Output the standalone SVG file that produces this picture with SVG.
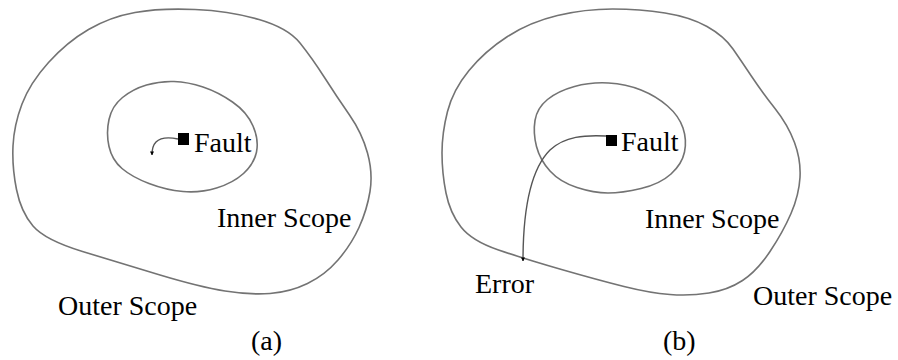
<svg xmlns="http://www.w3.org/2000/svg" width="898" height="360" viewBox="0 0 898 360">
<style>
.scope{fill:none;stroke:#737373;stroke-width:1.6}
.path{fill:none;stroke:#555;stroke-width:1.4}
.fault{fill:#000}
text{font-family:"Liberation Serif","Times New Roman",serif;font-size:28px;fill:#000}
</style>
<defs>
<marker id="tip" viewBox="0 0 10 10" refX="9" refY="5" markerWidth="4" markerHeight="4" orient="auto" markerUnits="userSpaceOnUse">
<path d="M0,0 L10,5 L0,10 Z" fill="#000"/>
</marker>
</defs>
<rect width="898" height="360" fill="#fff"/>
<g id="panel-a">
<g id="a-outer-scope">
<path class="scope" d="M135,12.5 Q160,8 195,9.5 Q230,11 259,19.5 Q288,28 300,43 Q312,58 324.5,77.5 Q337,97 349.5,115 Q362,133 367.5,153 Q373,173 370,191.5 Q367,210 359,227.5 Q351,245 338,260 Q325,275 307.5,283.5 Q290,292 270,293.5 Q250,295 225,291 Q200,287 160,275 Q120,263 82.5,251.5 Q45,240 33,226 Q21,212 16.5,189.5 Q12,167 13,146 Q14,125 22,104 Q30,83 48.5,62.5 Q67,42 88.5,29.5 Q110,17 135,12.5 Z"/>
<text x="58" y="315">Outer Scope</text>
</g>
<g id="a-inner-scope">
<path class="scope" d="M109,119.5 Q112,106 122.5,97.5 Q133,89 146.5,85 Q160,81 174,81.5 Q188,82 203,87 Q218,92 232.5,102 Q247,112 253,126 Q259,140 256.5,152 Q254,164 243.5,173.5 Q233,183 216.5,188 Q200,193 183,191.5 Q166,190 149,183.5 Q132,177 122,168.5 Q112,160 109,146.5 Q106,133 109,119.5 Z"/>
<text x="217" y="227">Inner Scope</text>
</g>
<g id="a-fault">
<rect class="fault" x="178" y="133" width="11" height="12"/>
<text x="194" y="152">Fault</text>
</g>
<text id="a-caption" x="251" y="350">(a)</text>
</g>
<g id="panel-b">
<g id="b-outer-scope">
<path class="scope" d="M557.5,15.5 Q585,9 612.5,9 Q640,9 665,13 Q690,17 707,26.5 Q724,36 733,49 Q742,62 752,77 Q762,92 775,108.5 Q788,125 794.5,142.5 Q801,160 800,177.5 Q799,195 791,213.5 Q783,232 770,251.5 Q757,271 742.5,280.5 Q728,290 709,293 Q690,296 670,294.5 Q650,293 624,286.5 Q598,280 561.5,269.5 Q525,259 498.5,250 Q472,241 461,227 Q450,213 446,193 Q442,173 442,153 Q442,133 447.5,111.5 Q453,90 469,70.5 Q485,51 507.5,36.5 Q530,22 557.5,15.5 Z"/>
<text x="753" y="305">Outer Scope</text>
</g>
<g id="b-inner-scope">
<path class="scope" d="M535,120.5 Q537,108 547.5,99.5 Q558,91 574.5,86.5 Q591,82 608.5,83 Q626,84 641,90 Q656,96 667.5,106 Q679,116 683,128 Q687,140 684.5,152 Q682,164 671,174 Q660,184 641,188.5 Q622,193 608,193 Q594,193 577,187.5 Q560,182 550,171 Q540,160 536.5,146.5 Q533,133 535,120.5 Z"/>
<text x="645" y="228">Inner Scope</text>
</g>
<g id="b-fault">
<rect class="fault" x="606" y="135" width="11" height="11"/>
<text x="621" y="151">Fault</text>
</g>
<g id="b-error">
<text x="475" y="293">Error</text>
</g>
<text id="b-caption" x="663" y="350">(b)</text>
</g>
<g id="connectors">
<path class="path" marker-end="url(#tip)" d="M178,139 C168,137 160,138 156,142 C153,145 152,149 152,155"/>
<path class="path" marker-end="url(#tip)" d="M606,136 C585,135 565,136 550,150 C530,170 523,210 523,261"/>
</g>
</svg>
